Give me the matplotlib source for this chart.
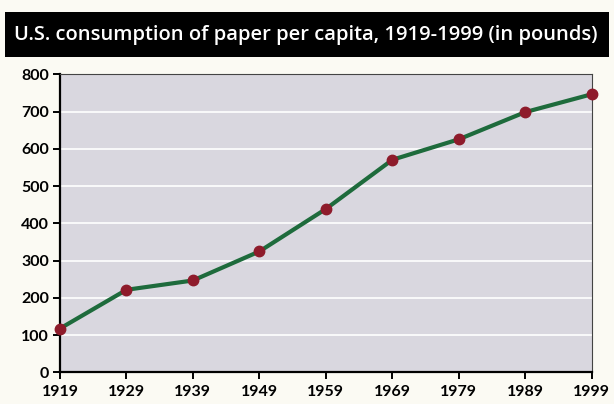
import matplotlib.pyplot as plt
from matplotlib.patches import Rectangle

years = [1919, 1929, 1939, 1949, 1959, 1969, 1979, 1989, 1999]
pounds = [118, 222, 247, 325, 439, 571, 626, 699, 747]

fig = plt.figure(figsize=(6.14, 4.04), dpi=100)
fig.patch.set_facecolor("#fbfaf3")

# black title bar
fig.patches.append(Rectangle((0.008, 0.859), 0.984, 0.111, transform=fig.transFigure,
                             facecolor="black", edgecolor="none"))
fig.text(0.022, 0.914, "U.S. consumption of paper per capita, 1919-1999 (in pounds)",
         color="white", fontsize=14.5, fontweight="semibold", family="Open Sans", va="center")

ax = fig.add_axes([0.0977, 0.078, 0.866, 0.7376])
ax.set_facecolor("#d9d7df")
ax.plot(years, pounds, color="#1e6b3c", lw=3, zorder=3, clip_on=False)
ax.plot(years, pounds, "o", color="#8e1b2b", ms=7.5, zorder=4, clip_on=False)

ax.set_xlim(1919, 1999)
ax.set_ylim(0, 800)
ax.set_xticks(years)
ax.set_yticks(range(0, 801, 100))
ax.yaxis.grid(True, color="white", lw=1.2)
ax.set_axisbelow(True)
for s in ["top", "right"]:
    ax.spines[s].set_linewidth(0.8)
    ax.spines[s].set_color("#444444")
ax.spines["left"].set_linewidth(1.6)
ax.spines["bottom"].set_linewidth(1.6)
ax.tick_params(axis="y", direction="out", length=5, width=1.4, labelsize=11.5, pad=3)
ax.tick_params(axis="x", direction="out", length=5, width=1.4, labelsize=11.5, pad=4)
for lab in ax.get_xticklabels() + ax.get_yticklabels():
    lab.set_fontweight("bold")
    lab.set_family("Lato")

fig.savefig("out.png", dpi=100, facecolor=fig.get_facecolor())
